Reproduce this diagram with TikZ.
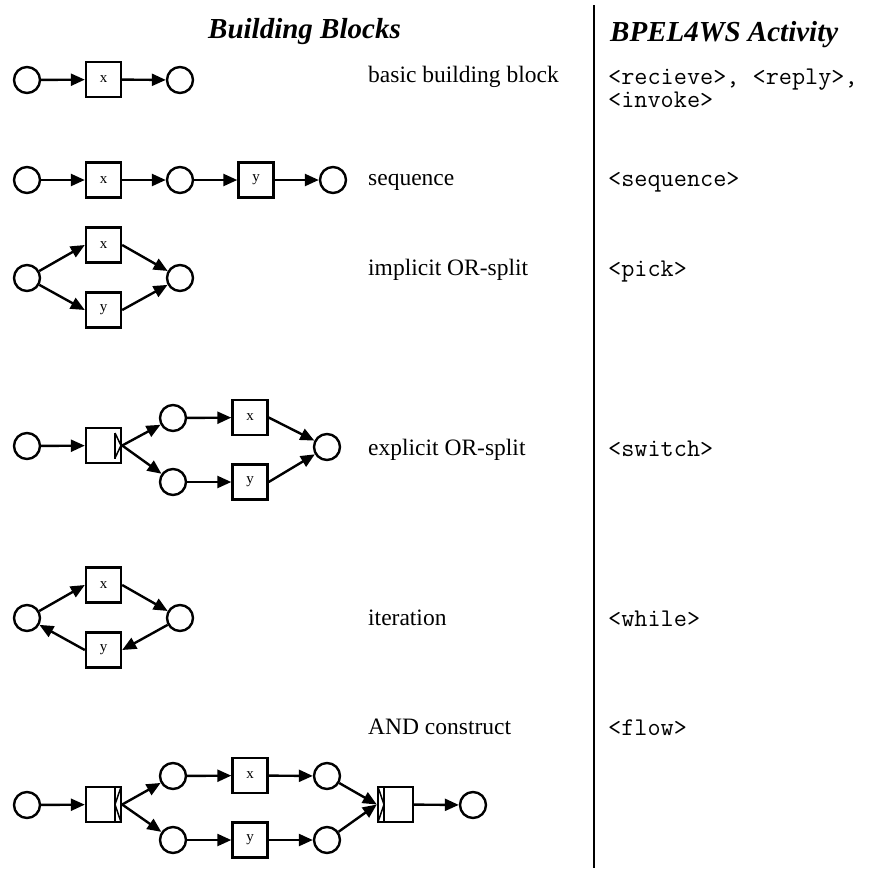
\documentclass[tikz,border=0pt]{standalone}
\usepackage{fontspec}
\setmainfont{Liberation Serif}
\usetikzlibrary{arrows.meta}
\tikzset{
  place/.style={draw, circle, line width=2.4pt, minimum size=26pt, inner sep=0pt},
  task/.style={draw, rectangle, line width=2.4pt, minimum size=35pt, inner sep=0pt,
    font=\fontsize{15}{15}\selectfont},
  flowarrow/.style={line width=2.4pt, -{Triangle[length=14pt,width=12pt]}},
  gate/.style={line width=1.5pt, line join=miter},
  gatebar/.style={line width=2.8pt},
  label/.style={anchor=base west, inner sep=0pt, font=\fontsize{23.5}{26}\selectfont},
  code/.style={anchor=base west, inner sep=0pt, font=\ttfamily\fontsize{25.5}{26}\selectfont},
  heading/.style={anchor=base west, inner sep=0pt, font=\bfseries\itshape\fontsize{29}{32}\selectfont},
}
\begin{document}
\begin{tikzpicture}[x=1pt, y=-1pt]
\useasboundingbox (0,0) rectangle (882,870);

% column headings and divider
\node[heading] (h1) at (208,38) {Building Blocks};
\node[heading] (h2) at (610,41) {BPEL4WS Activity};
\coordinate (dtop) at (594,5);
\coordinate (dbot) at (594,868);
\draw[line width=2.8pt] (dtop) -- (dbot);

% basic building block
\node[place] (b1) at (27,80) {};
\node[task]  (bx) at (103.5,79.5) {x};
\node[place] (b2) at (180,80) {};
\draw[flowarrow] (b1) -- (bx);
\draw[flowarrow] (bx) -- (b2);
\node[label] (l1) at (368,82) {basic building block};
\node[code]  (c1) at (608,84) {<recieve>, <reply>,};
\node[code]  (c1b) at (608,107) {<invoke>};

% sequence
\node[place] (s1) at (27,180) {};
\node[task]  (sx) at (103.5,180) {x};
\node[place] (s2) at (180,180) {};
\node[task]  (sy) at (256,180) {y};
\node[place] (s3) at (333,180) {};
\draw[flowarrow] (s1) -- (sx);
\draw[flowarrow] (sx) -- (s2);
\draw[flowarrow] (s2) -- (sy);
\draw[flowarrow] (sy) -- (s3);
\node[label] (l2) at (368,185) {sequence};
\node[code]  (c2) at (608,186) {<sequence>};

% implicit OR-split
\node[place] (i1) at (27,278) {};
\node[task]  (ix) at (103.5,245) {x};
\node[task]  (iy) at (103.5,310) {y};
\node[place] (i2) at (180,278) {};
\draw[flowarrow] (i1) -- (ix.west);
\draw[flowarrow] (i1) -- (iy.west);
\draw[flowarrow] (ix.east) -- (i2);
\draw[flowarrow] (iy.east) -- (i2);
\node[label] (l3) at (368,275) {implicit OR-split};
\node[code]  (c3) at (608,276) {<pick>};

% explicit OR-split
\node[place] (e1) at (27,446) {};
\node[task]  (es) at (103.5,445.5) {};
\draw[gate,fill=white] ([xshift=11.5pt,yshift=-12.5pt]es.center) -- ([xshift=17.5pt]es.center) -- ([xshift=11.5pt,yshift=12.5pt]es.center);
\draw[gatebar] ([xshift=11.5pt,yshift=-13pt]es.center) -- ([xshift=11.5pt,yshift=13pt]es.center);
\node[place] (e2) at (173,418) {};
\node[task]  (ex) at (250,417.5) {x};
\node[place] (e3) at (173,482) {};
\node[task]  (ey) at (250,482) {y};
\node[place] (e4) at (327,447) {};
\draw[flowarrow] (e1) -- (es);
\draw[flowarrow] (es.east) -- (e2);
\draw[flowarrow] (es.east) -- (e3);
\draw[flowarrow] (e2) -- (ex);
\draw[flowarrow] (e3) -- (ey);
\draw[flowarrow] (ex.east) -- (e4);
\draw[flowarrow] (ey.east) -- (e4);
\node[label] (l4) at (368,455) {explicit OR-split};
\node[code]  (c4) at (608,456) {<switch>};

% iteration
\node[place] (t1) at (27,618) {};
\node[task]  (tx) at (103.5,585) {x};
\node[task]  (ty) at (103.5,650) {y};
\node[place] (t2) at (180,618) {};
\draw[flowarrow] (t1) -- (tx.west);
\draw[flowarrow] (tx.east) -- (t2);
\draw[flowarrow] (t2) -- (ty.east);
\draw[flowarrow] (ty.west) -- (t1);
\node[label] (l5) at (368,625) {iteration};
\node[code]  (c5) at (608,626) {<while>};

% AND construct
\node[place] (a1) at (27,805) {};
\node[task]  (as) at (103.5,804.5) {};
\draw[gatebar] ([xshift=11.5pt,yshift=-17.5pt]as.center) -- ([xshift=11.5pt,yshift=17.5pt]as.center);
\draw[gate] ([xshift=17.5pt,yshift=-17.5pt]as.center) -- ([xshift=11.5pt]as.center) -- ([xshift=17.5pt,yshift=17.5pt]as.center);
\node[place] (a2) at (173,776) {};
\node[task]  (ax) at (250,775.5) {x};
\node[place] (a3) at (327,776) {};
\node[place] (a4) at (173,840) {};
\node[task]  (ay) at (250,840) {y};
\node[place] (a5) at (327,840) {};
\node[task]  (aj) at (395.5,804.5) {};
\draw[gatebar] ([xshift=-11.5pt,yshift=-17.5pt]aj.center) -- ([xshift=-11.5pt,yshift=17.5pt]aj.center);
\draw[gate] ([xshift=-17.5pt,yshift=-17.5pt]aj.center) -- ([xshift=-11.5pt]aj.center) -- ([xshift=-17.5pt,yshift=17.5pt]aj.center);
\node[place] (a6) at (473,805) {};
\draw[flowarrow] (a1) -- (as);
\draw[flowarrow] (as.east) -- (a2);
\draw[flowarrow] (as.east) -- (a4);
\draw[flowarrow] (a2) -- (ax);
\draw[flowarrow] (ax) -- (a3);
\draw[flowarrow] (a4) -- (ay);
\draw[flowarrow] (ay) -- (a5);
\draw[flowarrow] (a3) -- (aj.west);
\draw[flowarrow] (a5) -- (aj.west);
\draw[flowarrow] (aj) -- (a6);
\node[label] (l6) at (368,734) {AND construct};
\node[code]  (c6) at (608,735) {<flow>};
\end{tikzpicture}
\end{document}
